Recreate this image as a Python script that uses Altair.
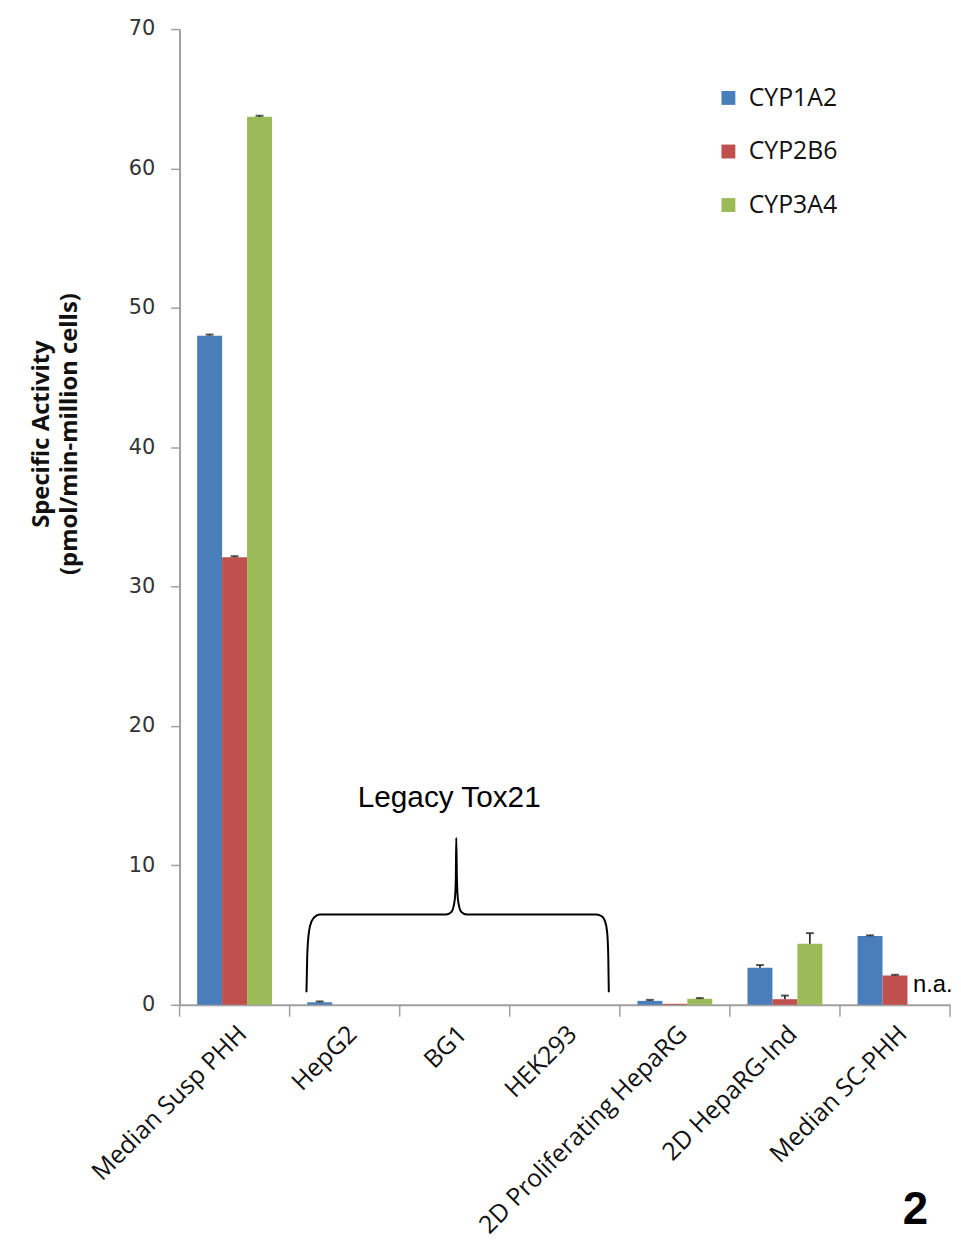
import altair as alt
import pandas as pd

categories = ["Median Susp PHH", "HepG2", "BG1", "HEK293",
              "2D Proliferating HepaRG", "2D HepaRG-Ind", "Median SC-PHH"]
series = ["CYP1A2", "CYP2B6", "CYP3A4"]
colors = ["#4A7EBB", "#C0504D", "#9BBB59"]

cyp1a2 = [48.0, 0.18, 0.0, 0.0, 0.28, 2.65, 4.93]
cyp2b6 = [32.1, 0.0, 0.0, 0.0, 0.07, 0.40, 2.10]
cyp3a4 = [63.7, 0.0, 0.0, 0.0, 0.43, 4.38, None]

err1a2 = [0.08, 0.06, 0.0, 0.0, 0.07, 0.20, 0.05]
err2b6 = [0.08, 0.0, 0.0, 0.0, 0.0, 0.26, 0.05]
err3a4 = [0.08, 0.0, 0.0, 0.0, 0.05, 0.76, None]

# category boundaries (for x-axis ticks between categories)
boundaries = [0, 1, 2, 3, 4, 5, 6, 7]

# brace annotation (x in category units 0..7, y in data units)
brace_x = [1.153, 1.160, 1.175, 1.20, 1.24, 1.28, 2.42, 2.47, 2.50, 2.51, 2.514,
           2.52, 2.53, 2.56, 2.61, 3.78, 3.83, 3.865, 3.885, 3.895, 3.90]
brace_y = [0.9, 3.5, 5.2, 6.0, 6.38, 6.47, 6.47, 6.65, 7.5, 9.0, 11.97,
           9.0, 7.5, 6.65, 6.47, 6.47, 6.38, 6.0, 5.2, 3.5, 0.9]

rows = []
for vals, errs, s in [(cyp1a2, err1a2, "CYP1A2"), (cyp2b6, err2b6, "CYP2B6"), (cyp3a4, err3a4, "CYP3A4")]:
    for c, v, e in zip(categories, vals, errs):
        if v is None:
            continue
        rows.append({"cat": c, "series": s, "value": v, "err": e, "upper": v + e})
df = pd.DataFrame(rows)
df_err = df[df["err"] > 0]

brace_df = pd.DataFrame({"x": brace_x, "y": brace_y, "o": list(range(len(brace_x)))})
ticks_df = pd.DataFrame({"x": boundaries})

axis_gray = "#A0A0A0"

x_enc = alt.X("cat:N", sort=categories, title=None,
              scale=alt.Scale(paddingInner=0.32, paddingOuter=0.16),
              axis=alt.Axis(labelAngle=-45, labelAlign="right", labelBaseline="middle",
                            labelFont="Open Sans", labelFontSize=25, labelColor="#111",
                            labelPadding=25, labelOffset=8, ticks=False,
                            domainColor=axis_gray, domainWidth=2, labelLimit=400))
y_scale = alt.Scale(domain=[0, 70], nice=False)
y_enc = alt.Y("value:Q", scale=y_scale, title=["Specific Activity", "(pmol/min-million cells)"],
              axis=alt.Axis(values=[0, 10, 20, 30, 40, 50, 60, 70], grid=False,
                            labelFont="DejaVu Sans", labelFontSize=21, labelColor="#333",
                            labelPadding=16, tickSize=9, tickColor=axis_gray, tickWidth=1.5,
                            domainColor=axis_gray, domainWidth=2,
                            titleFont="Open Sans", titleFontSize=24, titleFontWeight="bold",
                            titleColor="#111", titleAngle=270, titleX=-151, titleY=408,
                            titleBaseline="top", titleAlign="center", titleLineHeight=28))
xoff = alt.XOffset("series:N", sort=series, scale=alt.Scale(paddingInner=0, paddingOuter=0))

bars = alt.Chart(df).mark_bar().encode(
    x=x_enc, y=y_enc, xOffset=xoff,
    color=alt.Color("series:N", sort=series, scale=alt.Scale(domain=series, range=colors),
                    legend=alt.Legend(title=None, orient="none", legendX=541, legendY=57,
                                      symbolType="square", symbolSize=196, symbolStrokeWidth=0,
                                      labelFont="Open Sans", labelFontSize=25, labelColor="#111",
                                      labelOffset=8, rowPadding=28))
)

err_rule = alt.Chart(df_err).mark_rule(color="#111", strokeWidth=1.5).encode(
    x=alt.X("cat:N", sort=categories), xOffset=xoff,
    y=alt.Y("value:Q", scale=y_scale), y2="upper:Q"
)
err_cap = alt.Chart(df_err).mark_tick(color="#111", thickness=2, size=8).encode(
    x=alt.X("cat:N", sort=categories), xOffset=xoff,
    y=alt.Y("upper:Q", scale=y_scale)
)

na_df = pd.DataFrame({"cat": ["Median SC-PHH"], "series": ["CYP3A4"], "value": [1.4], "label": ["n.a."]})
na_text = alt.Chart(na_df).mark_text(align="left", baseline="middle", font="Liberation Sans",
                                     fontSize=24, color="#000", dx=-7).encode(
    x=alt.X("cat:N", sort=categories), xOffset=xoff,
    y=alt.Y("value:Q", scale=y_scale), text="label:N"
)

inner = alt.layer(bars, err_rule, err_cap, na_text)

xq = alt.Scale(domain=[0, 7], nice=False, zero=False)
cat_ticks = alt.Chart(ticks_df).mark_rule(color=axis_gray, strokeWidth=1.5).encode(
    x=alt.X("x:Q", scale=xq, axis=None),
    y=alt.value(984), y2=alt.value(996)
)
brace = alt.Chart(brace_df).mark_line(color="#000", strokeWidth=2, interpolate="monotone").encode(
    x=alt.X("x:Q", scale=xq, axis=None),
    y=alt.Y("y:Q", scale=y_scale),
    order="o:Q"
)
legacy_df = pd.DataFrame({"x": [2.45], "y": [14.8], "label": ["Legacy Tox21"]})
legacy = alt.Chart(legacy_df).mark_text(font="Liberation Sans", fontSize=30, color="#000",
                                        baseline="middle").encode(
    x=alt.X("x:Q", scale=xq, axis=None),
    y=alt.Y("y:Q", scale=y_scale), text="label:N"
)
panel_df = pd.DataFrame({"label": ["2"]})
panel = alt.Chart(panel_df).mark_text(font="Liberation Sans", fontSize=46, fontWeight="bold",
                                      color="#000", baseline="bottom").encode(
    x=alt.value(742), y=alt.value(1215), text="label:N"
)

chart = alt.layer(inner, cat_ticks, brace, legacy, panel).resolve_scale(x="independent").properties(
    width=777, height=984,
    autosize=alt.AutoSizeParams(type="none"),
    padding={"left": 173, "top": 16, "right": 3, "bottom": 232}
).configure_view(stroke=None)

chart.save("out.html", embed_options={"renderer": "svg", "actions": False})
